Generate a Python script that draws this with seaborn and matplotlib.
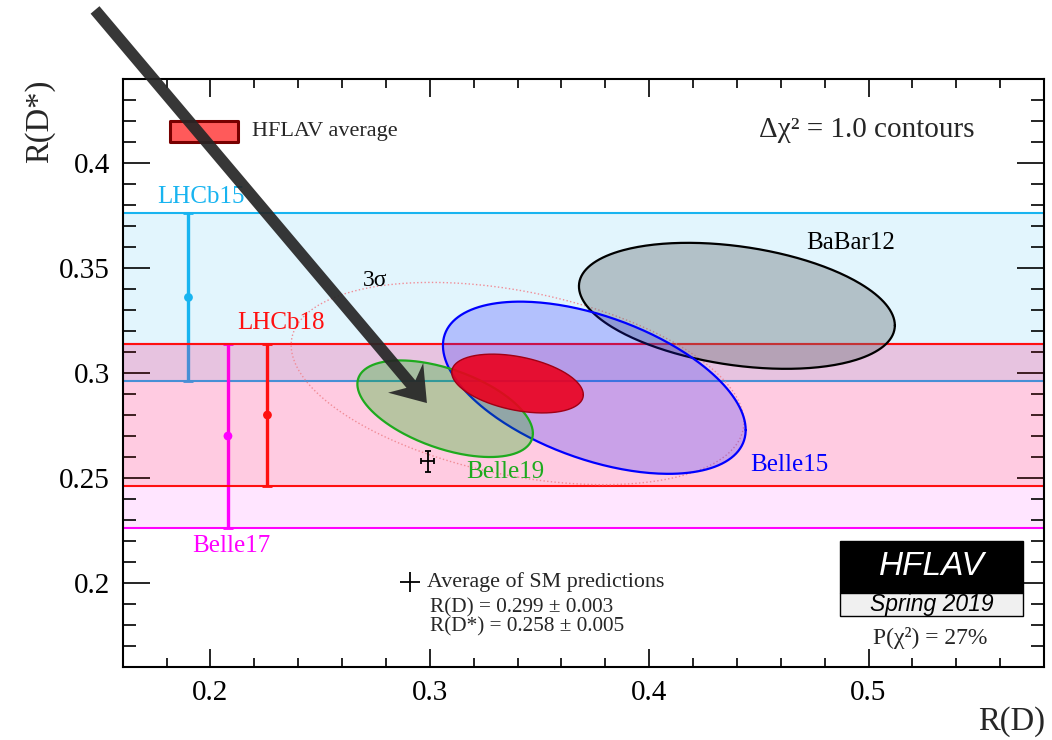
import numpy as np
import pandas as pd
import matplotlib
matplotlib.use("Agg")
import matplotlib.pyplot as plt
import seaborn as sns
from matplotlib.patches import Rectangle, Polygon
from matplotlib.ticker import FixedLocator, FixedFormatter, MultipleLocator
from matplotlib.transforms import IdentityTransform

# ---------------- measurements ----------------
# 2D measurements of R(D) and R(D*) (Delta chi2 = 1 contours)
ellipse_names = ["BaBar12", "Belle15", "Belle19"]
ellipse_rd = [0.440, 0.375, 0.307]
ellipse_rd_err = [0.072, 0.069, 0.040]
ellipse_rds = [0.332, 0.293, 0.283]
ellipse_rds_err = [0.030, 0.041, 0.023]
ellipse_rho = [-0.31, -0.49, -0.51]

# R(D*)-only measurements (bands)
band_names = ["LHCb15", "Belle17", "LHCb18"]
band_rds = [0.336, 0.270, 0.280]
band_rds_err = [0.040, 0.044, 0.034]
band_marker_rd = [0.190, 0.208, 0.226]

# world average
avg_rd, avg_rd_err = 0.340, 0.030
avg_rds, avg_rds_err = 0.295, 0.014
avg_rho = -0.38
dchi2_3sigma = 11.83

# Standard Model prediction
sm_rd, sm_rd_err = 0.299, 0.003
sm_rds, sm_rds_err = 0.258, 0.005
p_chi2 = 27

x_ticks = [0.2, 0.3, 0.4, 0.5]
x_tick_labels = ["0.2", "0.3", "0.4", "0.5"]
y_ticks = [0.2, 0.25, 0.3, 0.35, 0.4]
y_tick_labels = ["0.2", "0.25", "0.3", "0.35", "0.4"]

# ---------------- style ----------------
sns.set_theme(style="ticks")
plt.rcParams["font.family"] = ["Liberation Serif", "DejaVu Serif"]

fig = plt.figure(figsize=(10.52, 7.40), dpi=100)
ax = fig.add_axes([0.1166, 0.0986, 0.8758, 0.7946])
ax.set_xlim(0.16, 0.58)
ax.set_ylim(0.16, 0.44)

band_colors = {"LHCb15": "#18b4f0", "Belle17": "#ff00ff", "LHCb18": "#ff1010"}
band_alpha = {"LHCb15": 0.12, "Belle17": 0.10, "LHCb18": 0.12}

# bands, their edges and the error bars
for i, name in enumerate(band_names):
    c = band_colors[name]
    lo = band_rds[i] - band_rds_err[i]
    hi = band_rds[i] + band_rds_err[i]
    ax.axhspan(lo, hi, color=c, alpha=band_alpha[name], lw=0, zorder=1 + i)
    ax.axhline(lo, color=c, lw=1.5, zorder=1 + i)
    ax.axhline(hi, color=c, lw=1.5, zorder=1 + i)
    ax.errorbar(band_marker_rd[i], band_rds[i], yerr=band_rds_err[i], fmt="none",
                ecolor=c, elinewidth=2.4, capsize=3.5, capthick=2.0, zorder=1 + i)

pts = pd.DataFrame({"rd": band_marker_rd, "rds": band_rds, "exp": band_names})
sns.scatterplot(data=pts, x="rd", y="rds", hue="exp", palette=band_colors,
                s=40, edgecolor="none", legend=False, ax=ax, zorder=4)


def contour(mx, sx, my, sy, rho, k=1.0, n=300):
    t = np.linspace(0, 2 * np.pi, n)
    x = mx + k * sx * np.cos(t)
    y = my + k * sy * (rho * np.cos(t) + np.sqrt(1 - rho ** 2) * np.sin(t))
    return x, y


fill_styles = {
    "BaBar12": dict(fc="#646e72", alpha=0.38, ec="black"),
    "Belle15": dict(fc="#1e1eff", alpha=0.24, ec="#0000ff"),
    "Belle19": dict(fc="#00b400", alpha=0.28, ec="#1eaa1e"),
}

# 3 sigma contour of the average
x3, y3 = contour(avg_rd, avg_rd_err, avg_rds, avg_rds_err, avg_rho, k=np.sqrt(dchi2_3sigma))
ax.plot(x3, y3, color="#f08c96", lw=1.0, ls=":", zorder=5)

for i, name in enumerate(ellipse_names):
    ex, ey = contour(ellipse_rd[i], ellipse_rd_err[i], ellipse_rds[i],
                     ellipse_rds_err[i], ellipse_rho[i])
    st = fill_styles[name]
    ax.fill(ex, ey, color=st["fc"], alpha=st["alpha"], lw=0, zorder=6 + i)
    sns.lineplot(x=ex, y=ey, sort=False, estimator=None, color=st["ec"],
                 lw=1.6, ax=ax, zorder=6 + i)

ax_, ay_ = contour(avg_rd, avg_rd_err, avg_rds, avg_rds_err, avg_rho)
ax.fill(ax_, ay_, color="#eb001e", alpha=0.9, lw=0, zorder=10)
ax.plot(ax_, ay_, color="#a00014", lw=1.0, zorder=10)

# SM prediction
ax.errorbar(sm_rd, sm_rds, xerr=sm_rd_err, yerr=sm_rds_err, fmt="none",
            ecolor="black", elinewidth=1.3, capsize=2.5, capthick=1.3, zorder=11)

# ---------------- labels ----------------
lab = dict(ha="left", va="center", fontsize=18, zorder=12)
ax.text(0.1758, 0.3840, "LHCb15", color=band_colors["LHCb15"], **lab)
ax.text(0.2120, 0.3237, "LHCb18", color=band_colors["LHCb18"], **lab)
ax.text(0.1915, 0.2174, "Belle17", color=band_colors["Belle17"], **lab)
ax.text(0.2694, 0.3440, "3σ", color="black", fontsize=17, ha="left", va="center", zorder=12)
ax.text(0.3165, 0.2530, "Belle19", color="#1eaa1e", **lab)
ax.text(0.4460, 0.2562, "Belle15", color="#0000ff", **lab)
ax.text(0.4715, 0.3620, "BaBar12", color="black", **lab)

# legend entry for the average
ax.add_patch(Rectangle((0.1816, 0.4102), 0.0308, 0.0099, fc="#ff5a5a", ec="#780000",
                       lw=2.2, joinstyle="round", zorder=12))
ax.text(0.2188, 0.4152, "HFLAV average", fontsize=16, ha="left", va="center", zorder=12)
ax.text(0.4503, 0.4157, "Δχ² = 1.0 contours", fontsize=21, ha="left", va="center", zorder=12)

# SM legend
ax.plot([0.2910], [0.2006], marker="+", ms=14, mew=1.3, color="black", zorder=12)
ax.text(0.2986, 0.2006, "Average of SM predictions", fontsize=15.8, ha="left", va="center", zorder=12)
ax.text(0.3001, 0.1881, f"R(D) = {sm_rd:.3f} ± {sm_rd_err:.3f}", fontsize=15.3, ha="left",
        va="center", zorder=12)
ax.text(0.3001, 0.1792, f"R(D*) = {sm_rds:.3f} ± {sm_rds_err:.3f}", fontsize=15.3, ha="left",
        va="center", zorder=12)

# HFLAV logo
ax.add_patch(Rectangle((0.4870, 0.1954), 0.0834, 0.0247, fc="black", ec="black", lw=1, zorder=12))
ax.add_patch(Rectangle((0.4870, 0.1843), 0.0834, 0.0111, fc="#f0f0f0", ec="black", lw=1, zorder=12))
ax.text(0.5287, 0.2078, "HFLAV", color="white", fontsize=24, style="italic",
        family=["Liberation Sans", "DejaVu Sans"], ha="center", va="center", zorder=13)
ax.text(0.5287, 0.1898, "Spring 2019", color="black", fontsize=16.5, style="italic",
        family=["Liberation Sans", "DejaVu Sans"], ha="center", va="center", zorder=13)
ax.text(0.5019, 0.1737, f"P(χ²) = {p_chi2}%", fontsize=17, ha="left", va="center", zorder=12)

# ---------------- axes ----------------
ax.xaxis.set_major_locator(FixedLocator(x_ticks))
ax.xaxis.set_major_formatter(FixedFormatter(x_tick_labels))
ax.yaxis.set_major_locator(FixedLocator(y_ticks))
ax.yaxis.set_major_formatter(FixedFormatter(y_tick_labels))
ax.xaxis.set_minor_locator(MultipleLocator(0.02))
ax.yaxis.set_minor_locator(MultipleLocator(0.01))
ax.tick_params(axis="both", which="both", direction="in", top=True, right=True,
               color="black", width=1.2, labelsize=21, labelcolor="black", zorder=20)
ax.tick_params(axis="y", which="major", length=19.5, pad=9)
ax.tick_params(axis="y", which="minor", length=9.5)
ax.tick_params(axis="x", which="major", length=13, pad=9)
ax.tick_params(axis="x", which="minor", length=6.5)
ax.set_axisbelow(False)
for s in ax.spines.values():
    s.set_linewidth(1.5)
    s.set_color("black")
    s.set_zorder(20)
ax.set_facecolor("white")
ax.grid(False)
ax.set_xlabel("")
ax.set_ylabel("")
fig.text(1045 / 1052, 1 - 722 / 740, "R(D)", fontsize=23.5, ha="right", va="center")
fig.text(40 / 1052, 1 - 80 / 740, "R(D*)", fontsize=23.5, rotation=90, ha="center", va="top")

# pointer arrow
tail = ax.transData.transform((0.1474, 0.4729))
tip = ax.transData.transform((0.2987, 0.2857))
u = (tip - tail) / np.linalg.norm(tip - tail)
nrm = np.array([-u[1], u[0]])
sh, hl, hw, nd = 5.8, 33.0, 23.0, 24.8
poly = [tail + nrm * sh, tip - u * nd + nrm * sh, tip - u * hl + nrm * hw, tip,
        tip - u * hl - nrm * hw, tip - u * nd - nrm * sh, tail - nrm * sh]
fig.add_artist(Polygon(poly, closed=True, fc="#262626", ec="none", alpha=0.92,
                       transform=IdentityTransform(), zorder=30))

fig.savefig("out.png", dpi=100)
